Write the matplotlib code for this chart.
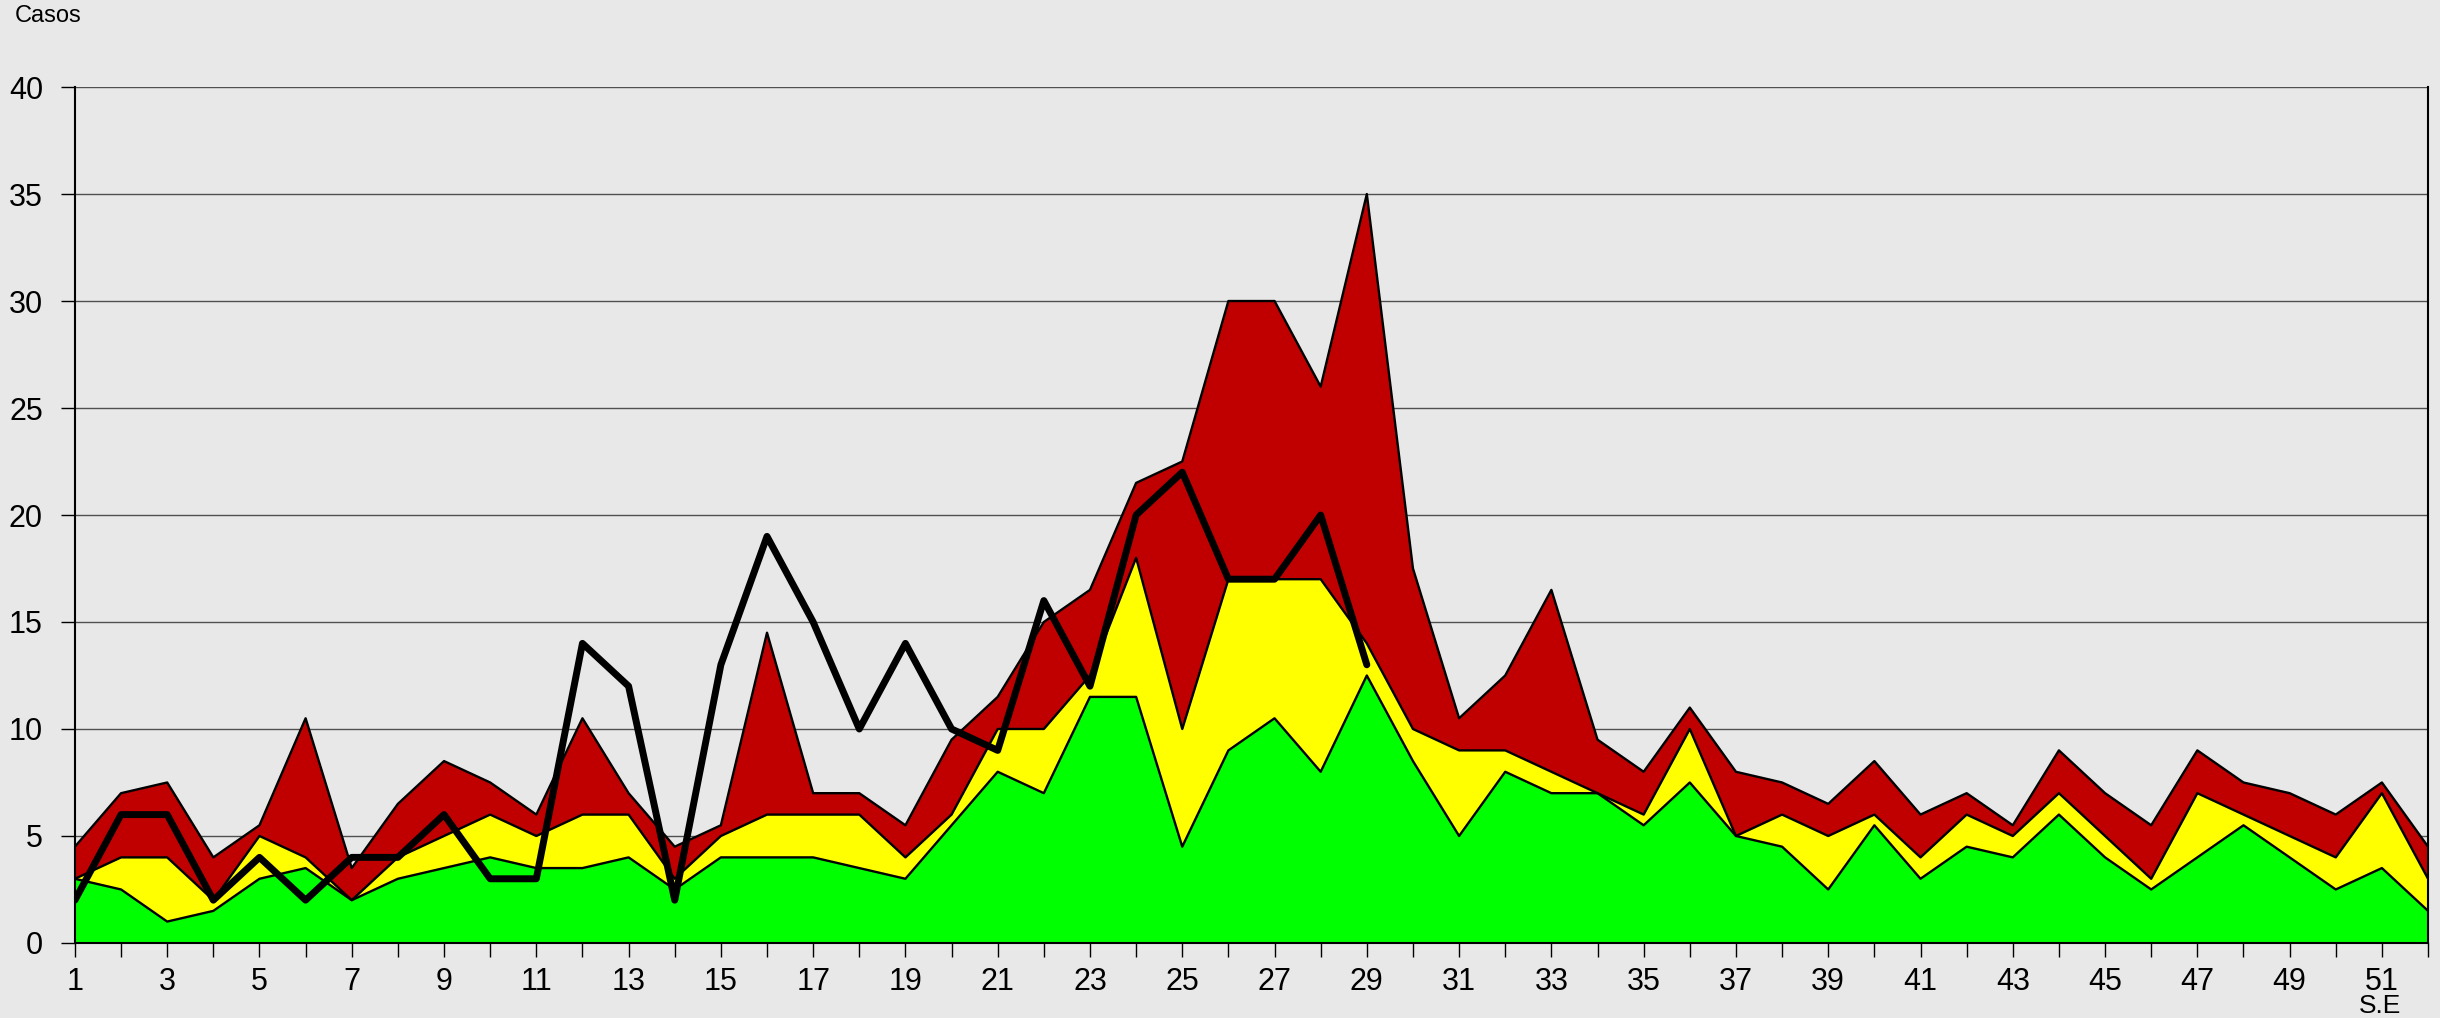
import matplotlib.pyplot as plt

plt.rcParams['font.family'] = ['Liberation Sans', 'DejaVu Sans']

weeks = list(range(1, 53))

# upper (red), middle (yellow) and lower (green) channel levels per week
red = [4.5, 7, 7.5, 4, 5.5, 10.5, 3.5, 6.5, 8.5, 7.5, 6, 10.5, 7, 4.5, 5.5, 14.5,
       7, 7, 5.5, 9.5, 11.5, 15, 16.5, 21.5, 22.5, 30, 30, 26, 35, 17.5, 10.5, 12.5,
       16.5, 9.5, 8, 11, 8, 7.5, 6.5, 8.5, 6, 7, 5.5, 9, 7, 5.5, 9, 7.5, 7, 6, 7.5, 4.5]
yellow = [3, 4, 4, 2, 5, 4, 2, 4, 5, 6, 5, 6, 6, 3, 5, 6,
          6, 6, 4, 6, 10, 10, 12.5, 18, 10, 17, 17, 17, 14, 10, 9, 9,
          8, 7, 6, 10, 5, 6, 5, 6, 4, 6, 5, 7, 5, 3, 7, 6, 5, 4, 7, 3]
green = [3, 2.5, 1, 1.5, 3, 3.5, 2, 3, 3.5, 4, 3.5, 3.5, 4, 2.5, 4, 4,
         4, 3.5, 3, 5.5, 8, 7, 11.5, 11.5, 4.5, 9, 10.5, 8, 12.5, 8.5, 5, 8,
         7, 7, 5.5, 7.5, 5, 4.5, 2.5, 5.5, 3, 4.5, 4, 6, 4, 2.5, 4, 5.5, 4, 2.5, 3.5, 1.5]

# observed cases so far
case_weeks = list(range(1, 30))
cases = [2, 6, 6, 2, 4, 2, 4, 4, 6, 3, 3, 14, 12, 2, 13, 19, 15, 10, 14, 10,
         9, 16, 12, 20, 22, 17, 17, 20, 13]

bg = '#E8E8E8'
fig = plt.figure(figsize=(24.4, 10.18), dpi=100, facecolor=bg)
ax = fig.add_axes([0.0307, 0.0737, 0.9644, 0.8408])
ax.set_facecolor(bg)

ax.fill_between(weeks, 0, red, color='#C00000', lw=0, zorder=2)
ax.fill_between(weeks, 0, yellow, color='#FFFF00', lw=0, zorder=3)
ax.fill_between(weeks, 0, green, color='#00FF00', lw=0, zorder=4)
for level in (red, yellow, green):
    ax.plot(weeks, level, color='black', lw=1.7, zorder=5)

ax.plot(case_weeks, cases, color='black', lw=5, solid_capstyle='round', zorder=6)

ax.set_xlim(1, 52)
ax.set_ylim(0, 40)
ax.set_yticks(range(0, 41, 5))
ax.set_xticks(weeks)
ax.set_xticklabels([str(w) if w % 2 == 1 else '' for w in weeks])
ax.tick_params(axis='both', labelsize=22, length=10, width=1, direction='out')
ax.tick_params(axis='x', pad=7)
ax.tick_params(axis='y', pad=13)
ax.grid(axis='y', color='#505050', lw=1.0, zorder=1)
ax.grid(axis='x', visible=False)

ax.spines['top'].set_visible(False)
for s in ('left', 'bottom', 'right'):
    ax.spines[s].set_color('black')
    ax.spines[s].set_linewidth(1.5)
    ax.spines[s].set_zorder(7)

fig.text(15 / 2440, 1 - 16 / 1018, 'Casos', fontsize=17, ha='left', va='center')
fig.text(2380 / 2440, 1 - 1013 / 1018, 'S.E', fontsize=19, ha='center', va='baseline')

fig.savefig('out.png', dpi=100, facecolor=bg)
